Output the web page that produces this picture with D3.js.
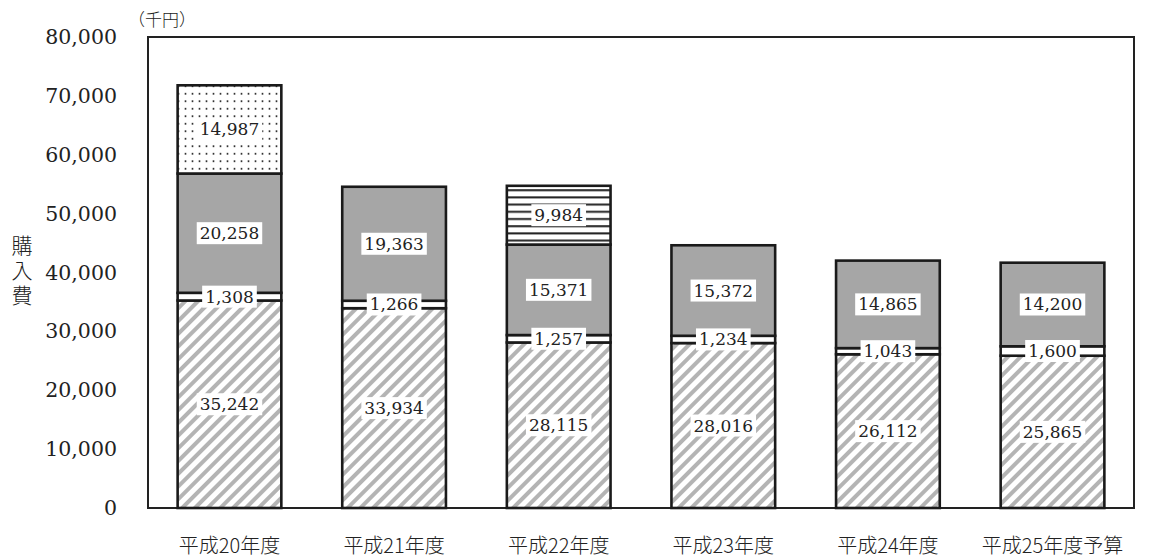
<!DOCTYPE html>
<html><head><meta charset="utf-8">
<script src="https://cdn.jsdelivr.net/npm/d3@7"></script>
<style>body{margin:0;background:#fff}svg{display:block}text{font-family:"DejaVu Serif","Liberation Serif","Noto Sans CJK JP",serif;fill:#222}.cjk{font-family:"Noto Sans CJK JP",sans-serif;font-weight:300}</style>
</head><body><svg id="c" width="1173" height="559"></svg>
<script>
const categories = ["平成20年度","平成21年度","平成22年度","平成23年度","平成24年度","平成25年度予算"];
const seriesHatch = [35242,33934,28115,28016,26112,25865];
const seriesSmall = [1308,1266,1257,1234,1043,1600];
const seriesGray = [20258,19363,15371,15372,14865,14200];
const seriesDots = [14987,0,0,0,0,0];
const seriesLines = [0,0,9984,0,0,0];
const yTicks = [0,10000,20000,30000,40000,50000,60000,70000,80000];
const unitLabel = "（千円）";
const yTitle = "購入費";

const svg = d3.select("#c");
const L=148,R=1134,T=37,B=508;
const x = d3.scaleBand().domain(categories).range([L,R]).paddingInner(0.37).paddingOuter(0.18);
const y = d3.scaleLinear().domain([0,80000]).range([B,T]);
const defs = svg.append("defs");
const ph = defs.append("pattern").attr("id","hatch").attr("patternUnits","userSpaceOnUse").attr("width",9).attr("height",9).attr("patternTransform","rotate(45)");
ph.append("rect").attr("width",9).attr("height",9).attr("fill","#fff");
ph.append("rect").attr("x",0).attr("width",4).attr("height",9).attr("fill","#b4b4b4");
const pd = defs.append("pattern").attr("id","dots").attr("patternUnits","userSpaceOnUse").attr("width",7).attr("height",7.5);
pd.append("rect").attr("width",7).attr("height",7.5).attr("fill","#fff");
pd.append("circle").attr("cx",3.5).attr("cy",3.7).attr("r",1).attr("fill","#222");
const pl = defs.append("pattern").attr("id","hlines").attr("patternUnits","userSpaceOnUse").attr("width",10).attr("height",7.2);
pl.append("rect").attr("width",10).attr("height",7.2).attr("fill","#fff");
pl.append("rect").attr("y",2).attr("width",10).attr("height",2).attr("fill","#222");

const series = [
 {vals:seriesHatch, fill:"url(#hatch)"},
 {vals:seriesSmall, fill:"#fff"},
 {vals:seriesGray, fill:"#a6a6a6"},
 {vals:seriesDots, fill:"url(#dots)"},
 {vals:seriesLines, fill:"url(#hlines)"}
];
svg.append("rect").attr("x",L).attr("y",T).attr("width",R-L).attr("height",B-T).attr("fill","none").attr("stroke","#222").attr("stroke-width",2);

const labels=[];
categories.forEach((c,i)=>{
  let base=0;
  series.forEach(s=>{
    const v=s.vals[i];
    if(!v) return;
    const y0=y(base), y1=y(base+v);
    svg.append("rect").attr("x",x(c)).attr("y",y1).attr("width",x.bandwidth()).attr("height",y0-y1)
      .attr("fill",s.fill).attr("stroke","#1a1a1a").attr("stroke-width",2.6);
    labels.push({x:x(c)+x.bandwidth()/2,y:(y0+y1)/2,t:d3.format(",")(v)});
    base+=v;
  });
});
labels.forEach(l=>{
  const g=svg.append("g");
  const t=g.append("text").attr("x",l.x).attr("y",l.y).attr("text-anchor","middle").attr("dominant-baseline","central").attr("font-size",17).text(l.t);
  const bb=t.node().getBBox();
  g.insert("rect","text").attr("x",bb.x-3).attr("y",bb.y-1).attr("width",bb.width+6).attr("height",bb.height+2).attr("fill","#fff");
});
svg.selectAll(".yt").data(yTicks).enter().append("text").attr("x",117).attr("y",d=>y(d)).attr("text-anchor","end").attr("dominant-baseline","central").attr("font-size",20.5).text(d=>d3.format(",")(d));
svg.selectAll(".xl").data(categories).enter().append("text").attr("class","cjk").attr("x",d=>x(d)+x.bandwidth()/2).attr("y",544).attr("text-anchor","middle").attr("dominant-baseline","central").attr("font-size",20).text(d=>d);
svg.append("text").attr("class","cjk").attr("x",128).attr("y",18).attr("font-size",17).attr("dominant-baseline","central").text(unitLabel);
svg.append("text").attr("class","cjk").attr("x",22).attr("y",272).attr("text-anchor","middle").attr("writing-mode","vertical-rl").attr("letter-spacing",4).attr("font-size",21).text(yTitle);
</script></body></html>
